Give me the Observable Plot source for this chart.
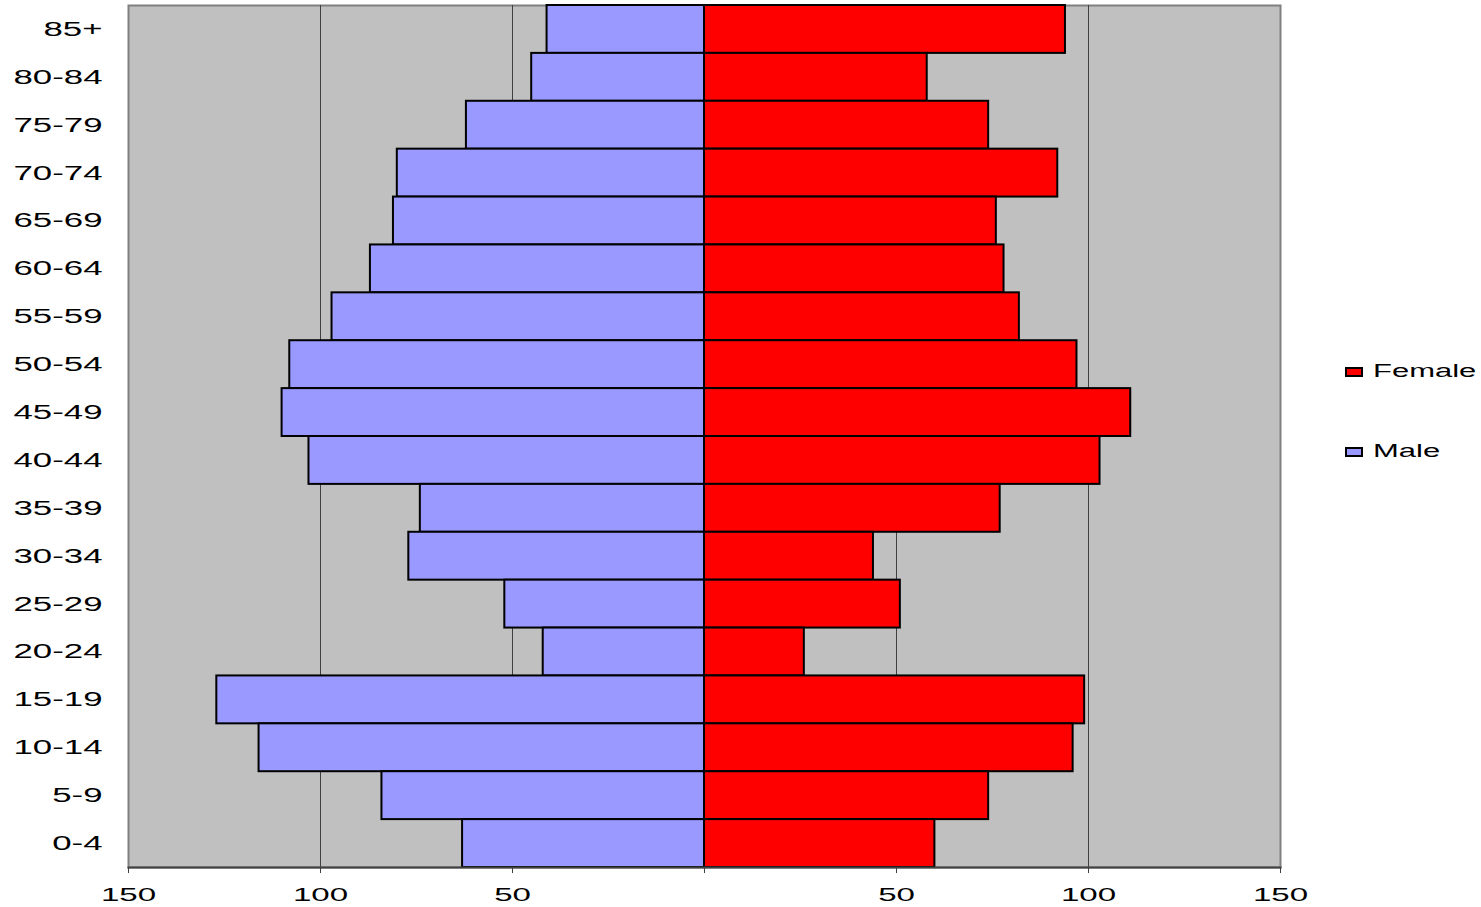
<!DOCTYPE html>
<html>
<head>
<meta charset="utf-8">
<script src="https://cdn.jsdelivr.net/npm/d3@7"></script>
<script src="https://cdn.jsdelivr.net/npm/@observablehq/plot@0.6"></script>
<style>
  body { margin: 0; background: #fff; }
  #wrap { position: relative; width: 1481px; height: 907px; font-family: Arial, "Liberation Sans", sans-serif; }
  .leg { position: absolute; display: flex; align-items: center; font-size: 18px; color: #000; }
  .sw { width: 14px; height: 6px; border: 2px solid #000; margin-right: 10px; }
  .lt { display: inline-block; transform: scaleX(1.72); transform-origin: left center; }
</style>
</head>
<body>
<div id="wrap"></div>
<script>
// Age groups, top to bottom
const ages = ["85+","80-84","75-79","70-74","65-69","60-64","55-59","50-54","45-49","40-44","35-39","30-34","25-29","20-24","15-19","10-14","5-9","0-4"];
const male   = [41, 45, 62, 80, 81, 87, 97, 108, 110, 103, 74, 77, 52, 42, 127, 116, 84, 63];
const female = [94, 58, 74, 92, 76, 78, 82, 97, 111, 103, 77, 44, 51, 26, 99, 96, 74, 60];
const xTicks = [-150, -100, -50, 0, 50, 100, 150];
const gridValues = [-100, -50, 50, 100];
const seriesNames = ["Female", "Male"];
const seriesColors = ["#ff0000", "#9999ff"];

const data = ages.map((a, i) => ({age: a, male: male[i], female: female[i]}));

const chart = Plot.plot({
  width: 1481,
  height: 907,
  marginTop: 5,
  marginBottom: 40,
  marginLeft: 128,
  marginRight: 201,
  style: {fontFamily: 'Arial, "Liberation Sans", sans-serif', fontSize: "19px", color: "#000", background: "#fff"},
  x: {domain: [-150, 150]},
  y: {type: "band", domain: ages, padding: 0, round: false},
  marks: [
    Plot.frame({fill: "#c0c0c0", stroke: "#808080", strokeWidth: 2}),
    Plot.ruleX(gridValues, {stroke: "#404040", strokeWidth: 1}),
    Plot.barX(data, {y: "age", x1: d => 0, x2: d => -d.male, fill: seriesColors[1], stroke: "#000", strokeWidth: 2}),
    Plot.barX(data, {y: "age", x1: d => 0, x2: d => d.female, fill: seriesColors[0], stroke: "#000", strokeWidth: 2}),
    Plot.frame({anchor: "bottom", stroke: "#404040", strokeWidth: 2}),
    Plot.axisX({ticks: xTicks, tickFormat: d => d === 0 ? "" : Math.abs(d), tickSize: 6, tickPadding: 14, stroke: "#404040", fontSize: 19, label: null}),
    Plot.axisY({tickSize: 0, tickPadding: 26, fontSize: 20, label: null})
  ]
});

// Horizontally stretch text like the original (wide rendering)
chart.querySelectorAll("text").forEach(t => {
  const tr = t.getAttribute("transform") || "";
  let x = parseFloat(t.getAttribute("x"));
  if (!isFinite(x)) x = 0;
  t.setAttribute("transform", `${tr} translate(${x},0) scale(1.74,1) translate(${-x},0)`);
});

const wrap = document.getElementById("wrap");
wrap.appendChild(chart);

const legendTops = [361, 441];
seriesNames.forEach((name, i) => {
  const item = document.createElement("div");
  item.className = "leg";
  item.style.left = "1345px";
  item.style.top = legendTops[i] + "px";
  const sw = document.createElement("span");
  sw.className = "sw";
  sw.style.background = seriesColors[i];
  const lt = document.createElement("span");
  lt.className = "lt";
  lt.textContent = name;
  item.appendChild(sw);
  item.appendChild(lt);
  wrap.appendChild(item);
});
</script>
</body>
</html>
